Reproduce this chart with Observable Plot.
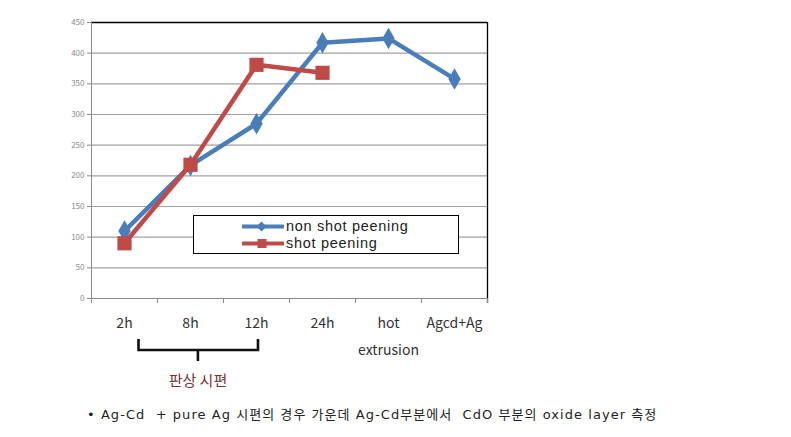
<!DOCTYPE html>
<html>
<head>
<meta charset="utf-8">
<script src="https://cdn.jsdelivr.net/npm/d3@7"></script>
<script src="https://cdn.jsdelivr.net/npm/@observablehq/plot@0.6"></script>
<style>
  html, body { margin: 0; padding: 0; background: #fff; }
  #wrap { position: relative; width: 791px; height: 437px; overflow: hidden; font-family: "Noto Sans CJK KR", "Noto Sans", sans-serif; }
  #legend { position: absolute; left: 193px; top: 215px; width: 264px; height: 37px; border: 1px solid #000; background: #fff; }
  .lg { position: absolute; left: 48px; height: 17px; display: flex; align-items: center; font-family: "Liberation Sans", Arial, sans-serif; font-size: 14.5px; color: #222; letter-spacing: 0.7px; white-space: nowrap; }
  .lg span { display: block; line-height: 17px; height: 17px; }
  .lg svg { margin-right: 2px; }
  #brace-label { position: absolute; left: 198px; top: 369px; transform: translateX(-50%); font-size: 15px; color: #7a3434; white-space: nowrap; }
  #caption { position: absolute; left: 87px; top: 404px; font-family: "DejaVu Sans", "Noto Sans CJK KR", sans-serif; font-size: 13px; color: #222; white-space: pre; letter-spacing: 1.05px; }
</style>
</head>
<body>
<div id="wrap"></div>
<script>
const categories = ["2h", "8h", "12h", "24h", "hot\nextrusion", "Agcd+Ag"];
const nonShotPeening = [110, 217, 285, 417, 424, 358];
const shotPeening = [90, 218, 381, 368, null, null];
const yTicks = [0, 50, 100, 150, 200, 250, 300, 350, 400, 450];
const seriesNames = ["non shot peening", "shot peening"];
const seriesColors = ["#4a7ebb", "#be4b48"];
const braceLabel = "판상 시편";
const captionText = "• Ag-Cd  + pure Ag 시편의 경우 가운데 Ag-Cd부분에서  CdO 부분의 oxide layer 측정";

const idx = categories.map((_, i) => i);
const bounds = d3.range(-0.5, categories.length, 1);
const blue = idx.map(i => ({i, v: nonShotPeening[i]})).filter(d => d.v != null);
const red = idx.map(i => ({i, v: shotPeening[i]})).filter(d => d.v != null);

const plot = Plot.plot({
  width: 791,
  height: 437,
  marginLeft: 91,
  marginRight: 304,
  marginTop: 22,
  marginBottom: 139,
  style: {fontFamily: "'Noto Sans CJK KR', 'Noto Sans', sans-serif", background: "transparent"},
  x: {type: "linear", domain: [-0.5, categories.length - 0.5]},
  y: {domain: [0, 450]},
  marks: [
    Plot.gridY(yTicks.slice(1, -1), {stroke: "#a0a0a0", strokeOpacity: 1, strokeWidth: 1.2}),
    Plot.ruleY([450], {stroke: "#000", strokeWidth: 1.3}),
    Plot.ruleX([categories.length - 0.5], {stroke: "#000", strokeWidth: 1.3, y1: 450, y2: -8}),
    Plot.ruleY([0], {stroke: "#8a8a8a"}),
    Plot.ruleX([-0.5], {stroke: "#8a8a8a"}),
    Plot.axisY(yTicks, {tickSize: 4, tickPadding: 3, fontSize: 8, color: "#8a8a8a", label: null}),
    Plot.axisX(bounds, {tickSize: 5, tickFormat: () => "", stroke: "#8a8a8a", label: null}),
    Plot.axisX(idx, {tickSize: 0, tickPadding: 10, tickFormat: i => categories[i], fontSize: 14, color: "#333", lineHeight: 1.95, label: null}),
    Plot.line(blue, {x: "i", y: "v", stroke: seriesColors[0], strokeWidth: 4.5}),
    Plot.dot(blue, {x: "i", y: "v", symbol: "diamond", r: 6.5, fill: seriesColors[0], stroke: "none"}),
    Plot.line(red, {x: "i", y: "v", stroke: seriesColors[1], strokeWidth: 4.5}),
    Plot.dot(red, {x: "i", y: "v", symbol: "square", r: 8, fill: seriesColors[1], stroke: "none"})
  ]
});

const wrap = document.getElementById("wrap");
wrap.appendChild(plot);

// brace under the first three categories, positioned through the x scale
const xs = plot.scale("x");
const ys = plot.scale("y");
const y0 = ys.apply(0);
const xl = xs.apply(0.22), xr = xs.apply(2.03), xc = xs.apply(1.12);
const bTop = y0 + 41, bMid = y0 + 52, bBot = y0 + 63;
d3.select(plot).append("path")
  .attr("d", `M${xl},${bTop} L${xl},${bMid} L${xr},${bMid} L${xr},${bTop} M${xc},${bMid} L${xc},${bBot}`)
  .attr("fill", "none").attr("stroke", "#111").attr("stroke-width", 2.6);

// legend
const legend = document.createElement("div");
legend.id = "legend";
seriesNames.forEach((name, k) => {
  const row = document.createElement("div");
  row.className = "lg";
  row.style.top = (k === 0 ? 2 : 19) + "px";
  const sym = k === 0
    ? `<rect x="16" y="4" width="7" height="7" transform="rotate(45 19.5 7.5)" fill="${seriesColors[k]}"/>`
    : `<rect x="15.5" y="3" width="9" height="9" fill="${seriesColors[k]}"/>`;
  row.innerHTML = `<svg width="42" height="15"><line x1="1" y1="7.5" x2="41" y2="7.5" stroke="${seriesColors[k]}" stroke-width="4" stroke-linecap="round"/>${sym}</svg><span>${name}</span>`;
  legend.appendChild(row);
});
wrap.appendChild(legend);

const bl = document.createElement("div");
bl.id = "brace-label";
bl.textContent = braceLabel;
bl.style.left = xc + "px";
wrap.appendChild(bl);

const cap = document.createElement("div");
cap.id = "caption";
cap.textContent = captionText;
wrap.appendChild(cap);
</script>
</body>
</html>
